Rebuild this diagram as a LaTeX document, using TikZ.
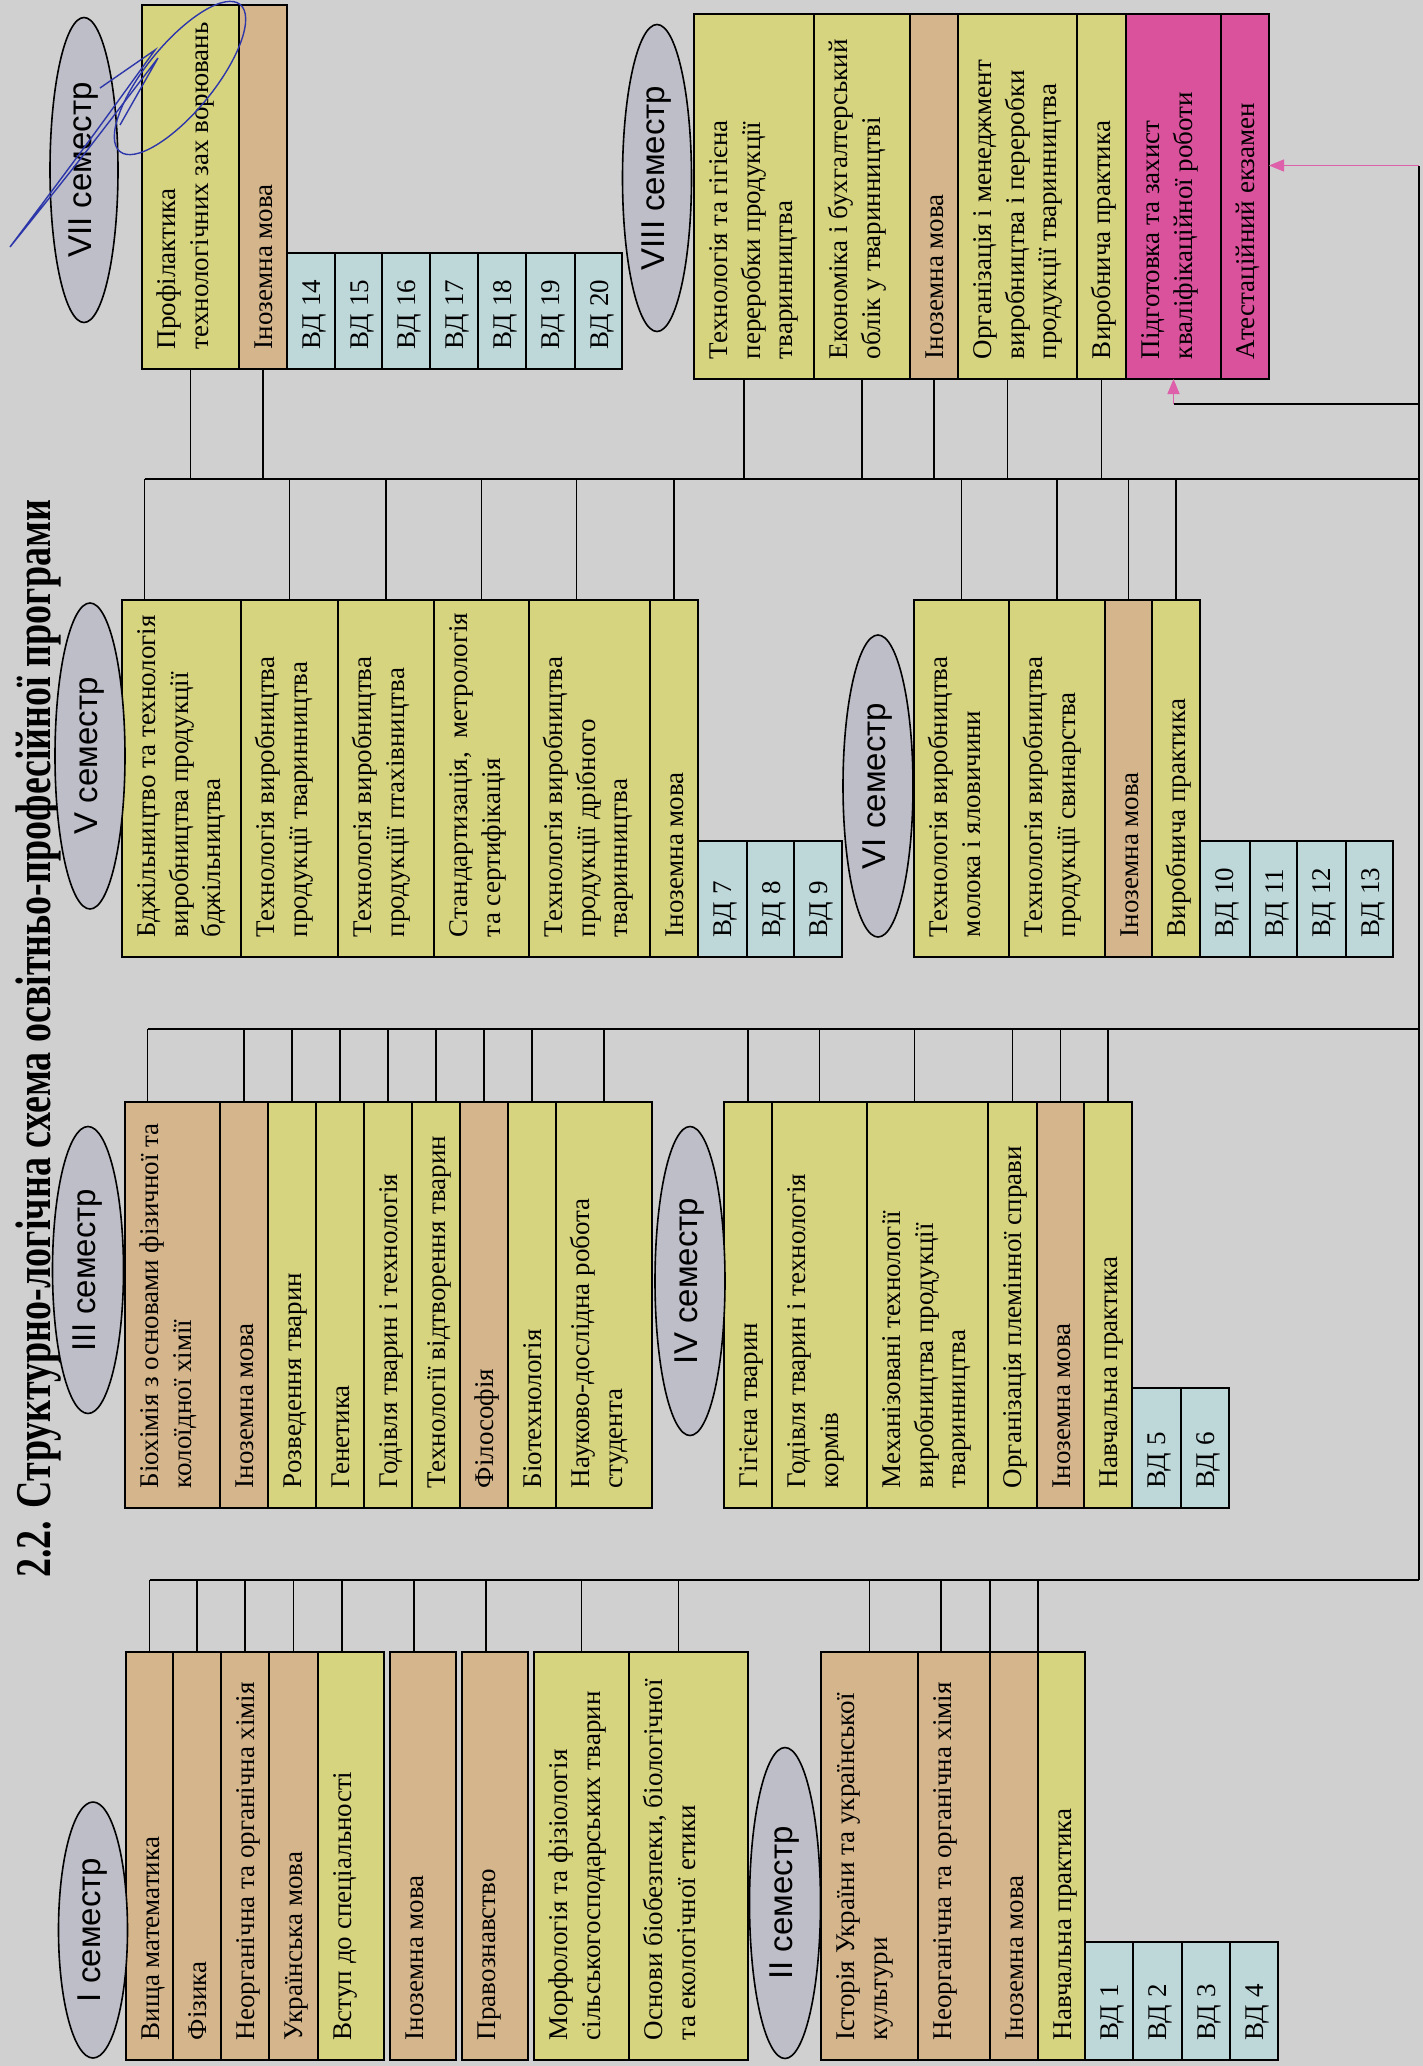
\documentclass[tikz,border=0pt]{standalone}
\usepackage{fontspec}
\usepackage{graphicx}
\usetikzlibrary{shapes.geometric,arrows.meta,calc}
\setmainfont{Liberation Serif}
\newfontfamily\boxfnt{Liberation Serif}
\newfontfamily\ellfnt{Liberation Sans}
\definecolor{bgc}{RGB}{208,208,208}
\definecolor{tanc}{RGB}{213,181,139}
\definecolor{yelc}{RGB}{215,212,128}
\definecolor{bluc}{RGB}{190,216,218}
\definecolor{pnkc}{RGB}{218,82,156}
\definecolor{ellc}{RGB}{190,190,200}
\definecolor{penc}{RGB}{45,55,170}
\definecolor{arrc}{RGB}{222,95,170}
\newcommand{\boxtext}{\raggedright\leftskip=20pt\rightskip=-200pt plus 1fil\relax\vskip 11pt\strut}
\newcommand{\BX}[7]{\node[boxst, fill=#6] (#1) at ({(#2+#4)/2},{(#3+#5)/2}) {\parbox[c][\dimexpr #4pt-#2pt\relax][t]{\dimexpr #5pt-#3pt\relax}{\boxtext #7}};}
\newcommand{\stubE}[3]{\path ([xshift=#2pt]#1.east) coordinate (tmp#1); \draw[conn] (tmp#1) -- (tmp#1 |- #3);}
\newcommand{\stubW}[3]{\path ([xshift=#2pt]#1.west) coordinate (tmp#1); \draw[conn] (tmp#1) -- (tmp#1 |- #3);}
\tikzset{
  boxst/.style={draw=black, line width=1.6pt, rotate=90, inner sep=0pt, outer sep=0pt,
    font=\boxfnt\fontsize{27}{32.5}\selectfont},
  ellst/.style={ellipse, draw=black, line width=1.6pt, fill=ellc, rotate=90, inner sep=0pt,
    font=\ellfnt\fontsize{33}{38}\selectfont},
  conn/.style={draw=black, line width=1.5pt},
  pinkarrow/.style={draw=arrc, line width=1.5pt, -{Triangle[length=15pt,width=12pt]}},
  pen/.style={draw=penc, line width=1.4pt}
}
\begin{document}
\begin{tikzpicture}[x=1pt,y=-1pt]
\useasboundingbox (0,0) rectangle (1423,2066);
\fill[bgc] (0,0) rectangle (1423,2066);

% title
\node[rotate=90, anchor=base west, inner sep=0pt, font=\bfseries\fontsize{50}{56}\selectfont] (title) at (50,1578)
  {\resizebox{1078pt}{\height}{2.2. Структурно-логічна схема освітньо-професійної програми}};

% ---------- semester I ----------
\BX{bI1}{126}{1652}{173}{2060}{tanc}{Вища математика}
\BX{bI2}{173}{1652}{221}{2060}{tanc}{Фізика}
\BX{bI3}{221}{1652}{269}{2060}{tanc}{Неорганічна та органічна хімія}
\BX{bI4}{269}{1652}{318}{2060}{tanc}{Українська мова}
\BX{bI5}{318}{1652}{384}{2060}{yelc}{Вступ до спеціальності}
\BX{bI6}{390}{1652}{456}{2060}{tanc}{Іноземна мова}
\BX{bI7}{462}{1652}{528}{2060}{tanc}{Правознавство}
\BX{bI8}{534}{1652}{629}{2060}{yelc}{Морфологія та фізіологія\\сільськогосподарських тварин}
\BX{bI9}{629}{1652}{748}{2060}{yelc}{Основи біобезпеки, біологічної\\та екологічної етики}
% ---------- semester II ----------
\BX{bII1}{821}{1652}{918}{2060}{tanc}{Історія України та української\\культури}
\BX{bII2}{918}{1652}{990}{2060}{tanc}{Неорганічна та органічна хімія}
\BX{bII3}{990}{1652}{1038}{2060}{tanc}{Іноземна мова}
\BX{bII4}{1038}{1652}{1085}{2060}{yelc}{Навчальна практика}
\BX{vd1}{1085}{1942}{1133}{2060}{bluc}{ВД 1}
\BX{vd2}{1133}{1942}{1182}{2060}{bluc}{ВД 2}
\BX{vd3}{1182}{1942}{1230}{2060}{bluc}{ВД 3}
\BX{vd4}{1230}{1942}{1278}{2060}{bluc}{ВД 4}
% ---------- semester III ----------
\BX{bIII1}{125}{1102}{220}{1508}{tanc}{Біохімія з основами фізичної та\\колоїдної хімії}
\BX{bIII2}{220}{1102}{268}{1508}{tanc}{Іноземна мова}
\BX{bIII3}{268}{1102}{316}{1508}{yelc}{Розведення тварин}
\BX{bIII4}{316}{1102}{364}{1508}{yelc}{Генетика}
\BX{bIII5}{364}{1102}{412}{1508}{yelc}{Годівля тварин і технологія}
\BX{bIII6}{412}{1102}{460}{1508}{yelc}{Технології відтворення тварин}
\BX{bIII7}{460}{1102}{508}{1508}{tanc}{Філософія}
\BX{bIII8}{508}{1102}{556}{1508}{yelc}{Біотехнологія}
\BX{bIII9}{556}{1102}{652}{1508}{yelc}{Науково-дослідна робота\\студента}
% ---------- semester IV ----------
\BX{bIV1}{724}{1102}{772}{1508}{yelc}{Гігієна тварин}
\BX{bIV2}{772}{1102}{867}{1508}{yelc}{Годівля тварин і технологія\\кормів}
\BX{bIV3}{867}{1102}{988}{1508}{yelc}{Механізовані технології\\виробництва продукції\\тваринництва}
\BX{bIV4}{988}{1102}{1037}{1508}{yelc}{Організація племінної справи}
\BX{bIV5}{1037}{1102}{1084}{1508}{tanc}{Іноземна мова}
\BX{bIV6}{1084}{1102}{1132}{1508}{yelc}{Навчальна практика}
\BX{vd5}{1132}{1388}{1181}{1508}{bluc}{ВД 5}
\BX{vd6}{1181}{1388}{1229}{1508}{bluc}{ВД 6}
% ---------- semester V ----------
\BX{bV1}{122}{600}{241}{957}{yelc}{Бджільництво та технологія\\виробництва продукції\\бджільництва}
\BX{bV2}{241}{600}{338}{957}{yelc}{Технологія виробництва\\продукції тваринництва}
\BX{bV3}{338}{600}{434}{957}{yelc}{Технологія виробництва\\продукції птахівництва}
\BX{bV4}{434}{600}{529}{957}{yelc}{Стандартизація, \ метрологія\\та сертифікація}
\BX{bV5}{529}{600}{650}{957}{yelc}{Технологія виробництва\\продукції дрібного\\тваринництва}
\BX{bV6}{650}{600}{698}{957}{yelc}{Іноземна мова}
\BX{vd7}{698}{841}{747}{957}{bluc}{ВД 7}
\BX{vd8}{747}{841}{794}{957}{bluc}{ВД 8}
\BX{vd9}{794}{841}{842}{957}{bluc}{ВД 9}
% ---------- semester VI ----------
\BX{bVI1}{914}{600}{1009}{957}{yelc}{Технологія виробництва\\молока і яловичини}
\BX{bVI2}{1009}{600}{1105}{957}{yelc}{Технологія виробництва\\продукції свинарства}
\BX{bVI3}{1105}{600}{1152}{957}{tanc}{Іноземна мова}
\BX{bVI4}{1152}{600}{1200}{957}{yelc}{Виробнича практика}
\BX{vd10}{1200}{841}{1250}{957}{bluc}{ВД 10}
\BX{vd11}{1250}{841}{1297}{957}{bluc}{ВД 11}
\BX{vd12}{1297}{841}{1346}{957}{bluc}{ВД 12}
\BX{vd13}{1346}{841}{1393}{957}{bluc}{ВД 13}
% ---------- semester VII ----------
\BX{bVII1}{142}{5}{239}{369}{yelc}{Профілактика\\технологічних зах ворювань}
\BX{bVII2}{239}{5}{287}{369}{tanc}{Іноземна мова}
\BX{vd14}{287}{253}{335}{369}{bluc}{ВД 14}
\BX{vd15}{335}{253}{382}{369}{bluc}{ВД 15}
\BX{vd16}{382}{253}{430}{369}{bluc}{ВД 16}
\BX{vd17}{430}{253}{478}{369}{bluc}{ВД 17}
\BX{vd18}{478}{253}{526}{369}{bluc}{ВД 18}
\BX{vd19}{526}{253}{575}{369}{bluc}{ВД 19}
\BX{vd20}{575}{253}{622}{369}{bluc}{ВД 20}
% ---------- semester VIII ----------
\BX{bVIII1}{694}{14}{814}{379}{yelc}{Технологія та гігієна\\переробки продукції\\тваринництва}
\BX{bVIII2}{814}{14}{910}{379}{yelc}{Економіка і бухгалтерський\\облік у тваринництві}
\BX{bVIII3}{910}{14}{958}{379}{tanc}{Іноземна мова}
\BX{bVIII4}{958}{14}{1077}{379}{yelc}{Організація і менеджмент\\виробництва і переробки\\продукції тваринництва}
\BX{bVIII5}{1077}{14}{1126}{379}{yelc}{Виробнича практика}
\BX{bVIII6}{1126}{14}{1221}{379}{pnkc}{Підготовка та захист\\кваліфікаційної роботи}
\BX{bVIII7}{1221}{14}{1269}{379}{pnkc}{Атестаційний екзамен}

% ---------- semester ellipses ----------
\node[ellst, minimum width=256pt, minimum height=69pt] (eI) at (93,1930) {I семестр};
\node[ellst, minimum width=311pt, minimum height=71pt] (eII) at (785,1903) {II семестр};
\node[ellst, minimum width=287pt, minimum height=71pt] (eIII) at (88,1270) {III семестр};
\node[ellst, minimum width=309pt, minimum height=70pt] (eIV) at (690,1281) {IV семестр};
\node[ellst, minimum width=306pt, minimum height=70pt] (eV) at (90,756) {V семестр};
\node[ellst, minimum width=302pt, minimum height=70pt] (eVI) at (878,786) {VI семестр};
\node[ellst, minimum width=305pt, minimum height=68pt] (eVII) at (84,170) {VII семестр};
\node[ellst, minimum width=307pt, minimum height=69pt] (eVIII) at (657,178) {VIII семестр};

% ---------- buses and stubs ----------
\coordinate (busA) at (0,1580);
\coordinate (busB) at (0,1029);
\coordinate (busC) at (0,479);
\coordinate (Rb) at (1419,1580);

\stubE{bI1}{0}{busA}\stubE{bI2}{0}{busA}\stubE{bI3}{0}{busA}\stubE{bI4}{0}{busA}
\stubE{bI5}{-9}{busA}\stubE{bI6}{-9}{busA}\stubE{bI7}{-9}{busA}\stubE{bI8}{0}{busA}
\stubE{bI9}{-10}{busA}
\stubE{bII1}{0}{busA}\stubE{bII2}{-13}{busA}\stubE{bII3}{-24}{busA}\stubE{bII4}{-23.5}{busA}
\draw[conn] (tmpbI1 |- busA) -- (Rb);

\stubE{bIII1}{-25}{busB}\stubE{bIII2}{0}{busB}\stubE{bIII3}{0}{busB}\stubE{bIII4}{0}{busB}
\stubE{bIII5}{0}{busB}\stubE{bIII6}{0}{busB}\stubE{bIII7}{0}{busB}\stubE{bIII8}{0}{busB}
\stubE{bIII9}{0}{busB}
\stubE{bIV1}{0}{busB}\stubE{bIV2}{0}{busB}\stubE{bIV3}{-13}{busB}\stubE{bIV4}{0}{busB}
\stubE{bIV5}{0}{busB}\stubE{bIV6}{0}{busB}
\draw[conn] (tmpbIII1 |- busB) -- (Rb |- busB);

\stubE{bV1}{-37}{busC}\stubE{bV2}{0}{busC}\stubE{bV3}{0}{busC}\stubE{bV4}{0}{busC}
\stubE{bV5}{-13}{busC}\stubE{bV6}{0}{busC}
\stubE{bVI1}{0}{busC}\stubE{bVI2}{0}{busC}\stubE{bVI3}{0}{busC}\stubE{bVI4}{0}{busC}
\stubW{bVII1}{0}{busC}\stubW{bVII2}{0}{busC}
\stubW{bVIII1}{-10}{busC}\stubW{bVIII2}{0}{busC}\stubW{bVIII3}{0}{busC}
\stubW{bVIII4}{-10}{busC}\stubW{bVIII5}{0}{busC}
\draw[conn] (tmpbV1 |- busC) -- (Rb |- busC);

% right return line and final arrows
\path ([yshift=31pt]bVIII7.south) coordinate (attIn);
\coordinate (kv) at (0,404);
\draw[conn] (Rb) -- (Rb |- attIn);
\draw[pinkarrow] (Rb |- attIn) -- (attIn);
\draw[conn] (Rb |- kv) -- (bVIII6.west |- kv);
\draw[pinkarrow] (bVIII6.west |- kv) -- (bVIII6.west);

% handwritten pen mark
\draw[pen, rotate around={50.7:(180,78)}] (180,78) ellipse [x radius=95pt, y radius=34pt];
\draw[pen] (100,88) -- (155,50) .. controls (90,140) .. (10,247) .. controls (80,160) .. (158,58) -- (120,125);
\end{tikzpicture}
\end{document}
